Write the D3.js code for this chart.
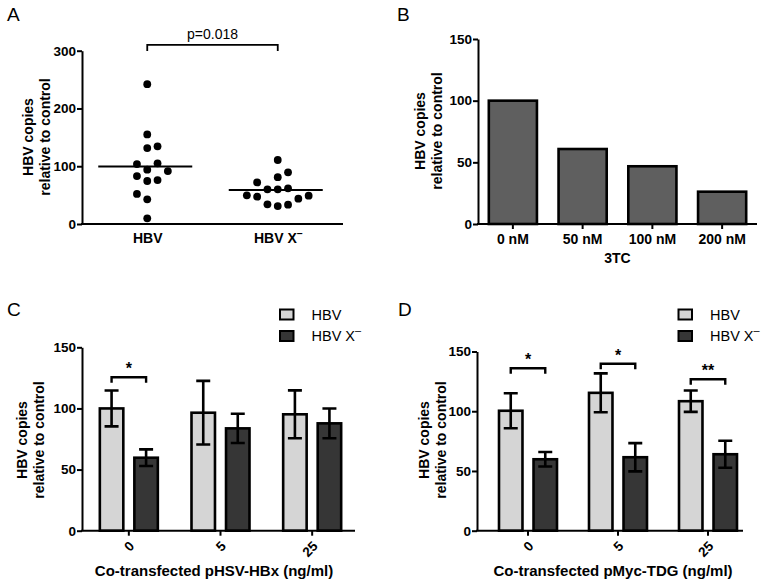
<!DOCTYPE html>
<html><head><meta charset="utf-8">
<script src="https://cdn.jsdelivr.net/npm/d3@7"></script>
<style>
body{margin:0;background:#fff}
svg{display:block}
text{font-family:'Liberation Sans',Arial,Helvetica,sans-serif;fill:#000}
</style>
</head><body>
<svg id="chart" width="764" height="585"></svg>
<script>
// ---------- DATA ----------
// Panel A (scatter, individual experiments)
const aGroups = ["HBV", "HBV X"];
const aHBV = [242, 155, 131.5, 134.4, 103.8, 105, 94, 91.7, 83, 74.4, 76, 52, 42.7, 9.8];
const aHBVSlot = [0, 0, 0, 1, -1, 1, 0, 2, -1, 0, 1, -1, 0, 0];
const aHBVX = [110.8, 72, 81, 89.4, 60, 60, 61.7, 49.6, 47.3, 49, 43.8, 34, 31, 33.5];
const aHBVXSlot = [0, -2, 0, 1, -1, 0, 1, -3, -2, 3, 2, -1, 0, 1];
const aTicks = [0, 100, 200, 300];
const aPText = "p=0.018";
const aPLevel = 310;

// Panel B (3TC)
const bCategories = ["0 nM", "50 nM", "100 nM", "200 nM"];
const bValues = [100, 60.8, 46.8, 26.2];
const bTicks = [0, 50, 100, 150];
const bXTitle = "3TC";

// Panels C / D
const seriesNames = ["HBV", "HBV X"];
const cdTicks = [0, 50, 100, 150];
const cCategories = ["0", "5", "25"];
const cHBV = [100, 96.5, 95.2];
const cHBVErr = [14.7, 26, 19.6];
const cHBVX = [59.7, 83.7, 87.8];
const cHBVXErr = [6.8, 12, 12.2];
const cSigGroups = ["0"];
const cSigLabels = ["*"];
const cSigLevels = [125.5];
const cXTitle = "Co-transfected pHSV-HBx (ng/ml)";

const dCategories = ["0", "5", "25"];
const dHBV = [100.4, 115.4, 108.4];
const dHBVErr = [14.6, 16.3, 8.9];
const dHBVX = [59.8, 61.5, 64];
const dHBVXErr = [6.1, 11.8, 11.3];
const dSigGroups = ["0", "5", "25"];
const dSigLabels = ["*", "*", "**"];
const dSigLevels = [136, 139.7, 126.8];
const dXTitle = "Co-transfected pMyc-TDG (ng/ml)";

const yTitle = ["HBV copies", "relative to control"];

// ---------- STYLE ----------
const LIGHT = "#d5d5d5", DARK = "#363636", MID = "#5f5f5f";
const FONT = "'Liberation Sans',Arial,Helvetica,sans-serif";
const svg = d3.select("#chart");

function panelLetter(t, x, y) {
  svg.append("text").attr("x", x).attr("y", y).attr("font-size", 19).text(t);
}
function yAxis(g, y, x0, ticks) {
  const ax = g.append("g").attr("transform", `translate(${x0},0)`)
    .call(d3.axisLeft(y).tickValues(ticks).tickSize(5).tickSizeOuter(0).tickPadding(1));
  ax.select(".domain").attr("stroke", "#000").attr("stroke-width", 2);
  ax.selectAll(".tick line").attr("stroke", "#000").attr("stroke-width", 2);
  ax.selectAll("text").attr("font-size", 13.5).attr("font-weight", "bold")
    .attr("font-family", FONT).attr("fill", "#000");
}
function xLine(g, x0, x1, yv) {
  g.append("line").attr("x1", x0 - 1).attr("x2", x1).attr("y1", yv).attr("y2", yv)
    .attr("stroke", "#000").attr("stroke-width", 2);
}
function yLabel(cx, cy, b1) {
  const t = svg.append("text").attr("transform", `translate(${cx},${cy}) rotate(-90)`)
    .attr("text-anchor", "middle").attr("font-size", 14).attr("font-weight", "bold");
  t.append("tspan").attr("x", 0).attr("y", 0).text(yTitle[0]);
  t.append("tspan").attr("x", 0).attr("y", b1).text(yTitle[1]);
}
function xMinus(sel, name, size) {
  sel.text(null);
  sel.append("tspan").text(name);
  if (name === "HBV X") {
    sel.append("tspan").attr("dy", -size * 0.45).attr("font-size", size * 0.75).text("\u2013");
  }
}

// ---------- PANEL A ----------
(function () {
  const x0 = 82, x1 = 343, yTop = 50.7, yBot = 224;
  const g = svg.append("g");
  const y = d3.scaleLinear().domain([0, 300]).range([yBot, yTop]);
  const x = d3.scalePoint().domain(aGroups).range([x0, x1]).padding(0.5);
  yAxis(g, y, x0, aTicks);
  xLine(g, x0, x1, yBot);
  const ax = g.append("g").attr("transform", `translate(0,${yBot})`)
    .call(d3.axisBottom(x).tickSize(0).tickPadding(9));
  ax.select(".domain").remove();
  ax.selectAll("text").attr("font-size", 14).attr("font-weight", "bold")
    .attr("font-family", FONT).attr("fill", "#000")
    .each(function (d) { xMinus(d3.select(this), d, 14); });

  const slotW = 10.3;
  const sets = [[aHBV, aHBVSlot], [aHBVX, aHBVXSlot]];
  sets.forEach(([vals, slots], gi) => {
    const cx = x(aGroups[gi]);
    g.selectAll(null).data(vals).enter().append("circle")
      .attr("cx", (d, i) => cx + slots[i] * slotW).attr("cy", d => y(d))
      .attr("r", 3.9).attr("fill", "#000");
    const m = d3.mean(vals);
    g.append("line").attr("x1", cx - 49).attr("x2", cx + 45)
      .attr("y1", y(m)).attr("y2", y(m)).attr("stroke", "#000").attr("stroke-width", 2);
  });
  // significance bracket
  const by = y(aPLevel);
  const xa = x(aGroups[0]), xb = x(aGroups[1]);
  g.append("path").attr("d", `M${xa},${by + 6}V${by}H${xb}V${by + 6}`)
    .attr("fill", "none").attr("stroke", "#000").attr("stroke-width", 1.8);
  g.append("text").attr("x", (xa + xb) / 2).attr("y", by - 6).attr("text-anchor", "middle")
    .attr("font-size", 14).text(aPText);
  yLabel(33, 137, 17);
  panelLetter("A", 7, 21);
})();

// ---------- PANEL B ----------
(function () {
  const x0 = 478, x1 = 757, yTop = 39, yBot = 224;
  const g = svg.append("g");
  const y = d3.scaleLinear().domain([0, 150]).range([yBot, yTop]);
  const x = d3.scaleBand().domain(bCategories).range([x0, x1]).paddingInner(0.31).paddingOuter(0.155);
  g.selectAll(null).data(bValues).enter().append("rect")
    .attr("x", (d, i) => x(bCategories[i])).attr("width", x.bandwidth())
    .attr("y", d => y(d)).attr("height", d => yBot - y(d))
    .attr("fill", MID).attr("stroke", "#000").attr("stroke-width", 2.6);
  yAxis(g, y, x0, bTicks);
  xLine(g, x0, x1, yBot);
  const ax = g.append("g").attr("transform", `translate(0,${yBot})`)
    .call(d3.axisBottom(x).tickSize(5).tickPadding(5));
  ax.select(".domain").remove();
  ax.selectAll(".tick line").attr("stroke", "#000").attr("stroke-width", 2);
  ax.selectAll("text").attr("font-size", 14).attr("font-weight", "bold")
    .attr("font-family", FONT).attr("fill", "#000");
  svg.append("text").attr("x", (x0 + x1) / 2).attr("y", 263).attr("text-anchor", "middle")
    .attr("font-size", 14).attr("font-weight", "bold").text(bXTitle);
  yLabel(425, 131, 17);
  panelLetter("B", 397, 21);
})();

// ---------- PANELS C & D ----------
function groupedPanel(cfg) {
  const { x0, x1, yTop, yBot, bandRange, cats, hbv, hbvErr, hbvx, hbvxErr,
          sigGroups, sigLabels, sigLevels, xTitle, titleX, legendX, letter, letterX, ylabX } = cfg;
  const g = svg.append("g");
  const y = d3.scaleLinear().domain([0, 150]).range([yBot, yTop]);
  const x = d3.scaleBand().domain(cats).range(bandRange);
  const xs = d3.scaleBand().domain(seriesNames).range([0, 58]).paddingInner(0.32);
  const gc = c => x(c) + x.bandwidth() / 2;
  const series = [[hbv, hbvErr, LIGHT], [hbvx, hbvxErr, DARK]];
  series.forEach(([vals, errs, col], si) => {
    const off = c => gc(c) - 29 + xs(seriesNames[si]);
    g.selectAll(null).data(vals).enter().append("rect")
      .attr("x", (d, i) => off(cats[i])).attr("width", xs.bandwidth())
      .attr("y", d => y(d)).attr("height", d => yBot - y(d))
      .attr("fill", col).attr("stroke", "#000").attr("stroke-width", 2.6);
    const cxf = i => off(cats[i]) + xs.bandwidth() / 2;
    g.selectAll(null).data(vals).enter().append("path")
      .attr("d", (d, i) => {
        const cx = cxf(i), t = y(d + errs[i]), b = y(d - errs[i]);
        return `M${cx - 7},${t}H${cx + 7}M${cx},${t}V${b}M${cx - 7},${b}H${cx + 7}`;
      })
      .attr("fill", "none").attr("stroke", "#000").attr("stroke-width", 2.6);
  });
  yAxis(g, y, x0, cdTicks);
  xLine(g, x0, x1, yBot);
  const ax = g.append("g").attr("transform", `translate(0,${yBot})`)
    .call(d3.axisBottom(x).tickSize(5).tickFormat(""));
  ax.select(".domain").remove();
  ax.selectAll(".tick line").attr("stroke", "#000").attr("stroke-width", 2);
  g.selectAll(null).data(cats).enter().append("text")
    .attr("transform", c => `translate(${gc(c) + 3},${yBot + 13}) rotate(-45)`)
    .attr("text-anchor", "end").attr("dy", "0.35em")
    .attr("font-size", 13.5).attr("font-weight", "bold").text(c => c);
  svg.append("text").attr("x", titleX).attr("y", 576).attr("text-anchor", "middle")
    .attr("font-size", 15).attr("font-weight", "bold").text(xTitle);
  // significance
  sigGroups.forEach((c, i) => {
    const xa = gc(c) - 29 + xs(seriesNames[0]) + xs.bandwidth() / 2;
    const xb = gc(c) - 29 + xs(seriesNames[1]) + xs.bandwidth() / 2;
    const by = y(sigLevels[i]);
    g.append("path").attr("d", `M${xa},${by + 5.5}V${by}H${xb}V${by + 5.5}`)
      .attr("fill", "none").attr("stroke", "#000").attr("stroke-width", 2.4);
    g.append("text").attr("x", (xa + xb) / 2).attr("y", by - 3).attr("text-anchor", "middle")
      .attr("font-size", 16).attr("font-weight", "bold").text(sigLabels[i]);
  });
  // legend
  seriesNames.forEach((s, i) => {
    const ly = 309.5 + i * 21.5;
    svg.append("rect").attr("x", legendX).attr("y", ly).attr("width", 13.5).attr("height", 10)
      .attr("fill", i === 0 ? LIGHT : DARK).attr("stroke", "#000").attr("stroke-width", 2);
    const t = svg.append("text").attr("x", legendX + 31.5).attr("y", ly + 10)
      .attr("font-size", 14.5);
    xMinus(t, s, 14.5);
  });
  yLabel(ylabX, 440, 17);
  panelLetter(letter, letterX, 316);
}

groupedPanel({ x0: 82, x1: 355, yTop: 347.3, yBot: 530.7, bandRange: [83, 358],
  cats: cCategories, hbv: cHBV, hbvErr: cHBVErr, hbvx: cHBVX, hbvxErr: cHBVXErr,
  sigGroups: cSigGroups, sigLabels: cSigLabels, sigLevels: cSigLevels,
  xTitle: cXTitle, titleX: 214, legendX: 280, letter: "C", letterX: 7, ylabX: 27 });

groupedPanel({ x0: 477, x1: 743, yTop: 351.5, yBot: 530.7, bandRange: [483, 753],
  cats: dCategories, hbv: dHBV, hbvErr: dHBVErr, hbvx: dHBVX, hbvxErr: dHBVXErr,
  sigGroups: dSigGroups, sigLabels: dSigLabels, sigLevels: dSigLevels,
  xTitle: dXTitle, titleX: 613, legendX: 678.5, letter: "D", letterX: 398, ylabX: 429 });
</script>
</body></html>
